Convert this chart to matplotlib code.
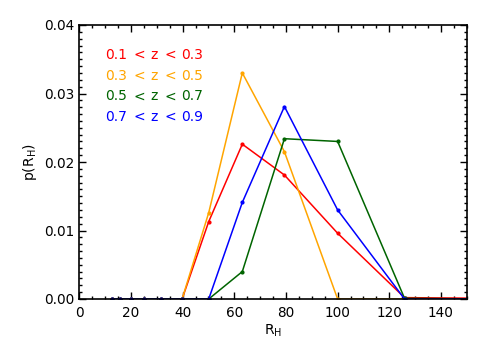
import matplotlib
matplotlib.use("Agg")
import matplotlib.pyplot as plt
from matplotlib.ticker import MultipleLocator

r_h = [12.6, 15.8, 20.0, 25.1, 31.6, 39.8, 50.1, 63.1, 79.4, 100.0, 125.9, 158.5]
p_z1 = [0, 0, 0, 0, 0, 0, 0.0113, 0.0226, 0.0181, 0.0096, 0.0002, 0.0001]
p_z2 = [0, 0, 0, 0, 0, 0, 0.0126, 0.0330, 0.0215, 0.0, 0.0, 0.0]
p_z3 = [0, 0, 0, 0, 0, 0, 0.0, 0.0040, 0.0234, 0.0230, 0.0001, 0.0]
p_z4 = [0, 0, 0, 0, 0, 0, 0.0, 0.0141, 0.0281, 0.0130, 0.0, 0.0]

labels = ["0.1 < z < 0.3", "0.3 < z < 0.5", "0.5 < z < 0.7", "0.7 < z < 0.9"]
colors = ["#ff0000", "#ffa500", "#006400", "#0000ff"]
series = [p_z1, p_z2, p_z3, p_z4]
ytick_labels = ["0.00", "0.01", "0.02", "0.03", "0.04"]

plt.rcParams['font.family'] = ['DejaVu Sans']
fig = plt.figure(figsize=(4.91, 3.5), dpi=100)
ax = fig.add_axes([79.3/491, 1 - 299/350, (466.8-79.3)/491, (299-25)/350])

for y, c in zip(series, colors):
    ax.plot(r_h, y, color=c, lw=1.1, marker='o', ms=2, clip_on=True)

ax.set_xlim(0, 150)
ax.set_ylim(0, 0.04)
ax.xaxis.set_major_locator(MultipleLocator(20))
ax.xaxis.set_minor_locator(MultipleLocator(5))
ax.set_yticks([0, 0.01, 0.02, 0.03, 0.04])
ax.set_yticklabels(ytick_labels)
ax.yaxis.set_minor_locator(MultipleLocator(0.001))
ax.tick_params(which='both', direction='in', top=True, right=True, labelsize=9.8, width=1)
ax.tick_params(which='major', length=5)
ax.tick_params(which='minor', length=2.5)
ax.tick_params(axis='x', pad=5)
for s in ax.spines.values():
    s.set_linewidth(1.2)

ax.set_xlabel(r"R$_{\mathregular{H}}$", fontsize=10, labelpad=2)
ax.set_ylabel(r"p(R$_{\mathregular{H}}$)", fontsize=10, labelpad=4)

# token x positions (pixels) for the in-plot labels
tok_x = [105.3, 133.3, 150.0, 164.0, 181.0]
for i, (lab, c) in enumerate(zip(labels, colors)):
    for tok, xp in zip(lab.split(" "), tok_x):
        ax.text(xp/491, 1 - (55 + i*20.6)/350, tok, color=c, fontsize=10,
                transform=fig.transFigure, va='center', ha='left')

fig.savefig("out.png", dpi=100)
